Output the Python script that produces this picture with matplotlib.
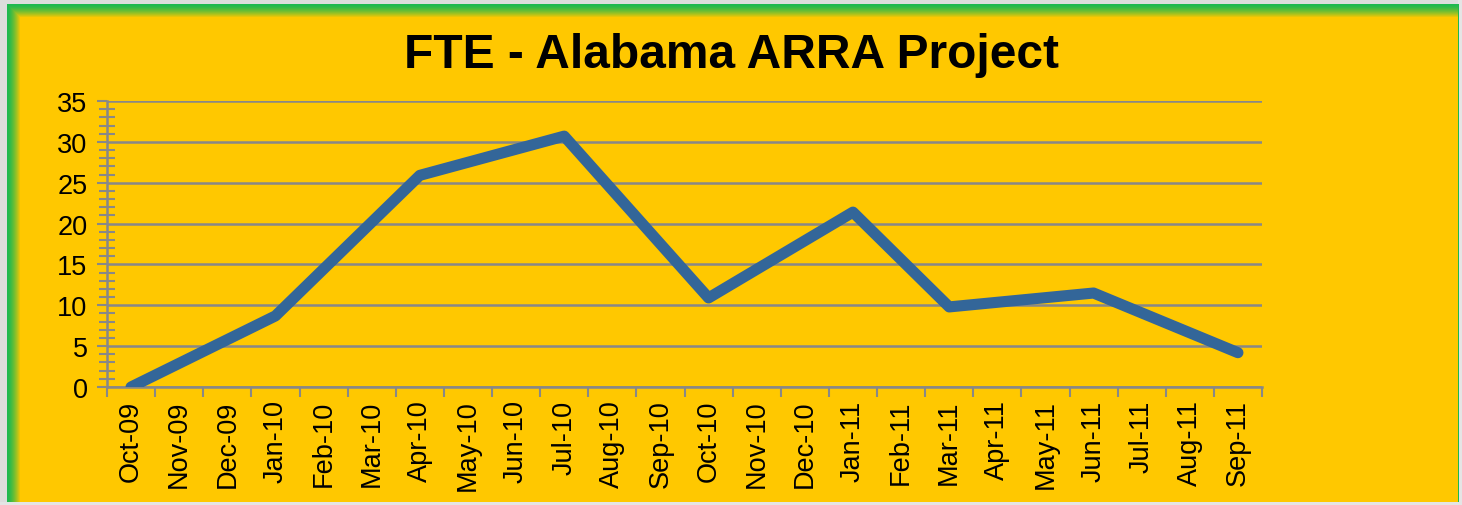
import numpy as np
from matplotlib import pyplot as plt
from matplotlib.ticker import MultipleLocator

# months on the category axis
months = ['Oct-09', 'Nov-09', 'Dec-09', 'Jan-10', 'Feb-10', 'Mar-10',
          'Apr-10', 'May-10', 'Jun-10', 'Jul-10', 'Aug-10', 'Sep-10',
          'Oct-10', 'Nov-10', 'Dec-10', 'Jan-11', 'Feb-11', 'Mar-11',
          'Apr-11', 'May-11', 'Jun-11', 'Jul-11', 'Aug-11', 'Sep-11']
# FTE values, None where no figure was reported
fte = [0.0, None, None, 8.7, None, None,
       25.9, None, None, 30.7, None, None,
       10.9, None, None, 21.4, None, 9.8,
       None, None, 11.5, None, None, 4.2]
title = 'FTE - Alabama ARRA Project'

plt.rcParams['font.family'] = ['Liberation Sans', 'DejaVu Sans']

fig = plt.figure(figsize=(14.62, 5.06), dpi=100)

# background with green border fading into the yellow panel
bg = fig.add_axes([0, 0, 1, 1], zorder=-10)
W, H = 1462, 506
img = np.ones((H, W, 3))
img[:] = np.array([255, 200, 0]) / 255.0
green = np.array([30, 185, 80]) / 255.0
yellow = np.array([255, 200, 0]) / 255.0
for i in range(14):
    t = (i / 13.0) ** 1.5
    c = green * (1 - t) + yellow * t
    img[5 + i, 7 + i:W - 4, :] = c
    img[5 + i:H - 3, 7 + i, :] = c
img[:5, :, :] = 0.87
img[:, :7, :] = 0.87
img[-3:, :, :] = 0.9
img[:, -4:, :] = 0.9
img[5:H - 3, W - 4, :] = green
bg.imshow(img, aspect='auto', interpolation='nearest')
bg.axis('off')

ax = fig.add_axes([107 / W, 1 - 388 / H, (1262 - 107) / W, (388 - 102) / H])
ax.set_facecolor('none')

x = [i for i, v in enumerate(fte) if v is not None]
y = [v for v in fte if v is not None]
ax.plot(x, y, color='#336699', linewidth=8, solid_capstyle='round',
        solid_joinstyle='round', zorder=3)

ax.set_xlim(-0.5, len(months) - 0.5)
ax.set_ylim(0, 35)

# y axis: major every 5, minor every 1
ax.yaxis.set_major_locator(MultipleLocator(5))
ax.yaxis.set_minor_locator(MultipleLocator(1))
ax.tick_params(axis='y', which='major', length=7, width=1.5, color='#888888',
               labelsize=19.5, pad=7, direction='out')
ax.tick_params(axis='y', which='minor', length=12, width=1.5, color='#888888',
               direction='inout')
ax.grid(axis='y', which='major', color='#888888', linewidth=1.8)
ax.set_axisbelow(True)

# x axis: ticks at category boundaries, labels at centres
ax.set_xticks(np.arange(-0.5, len(months), 1.0))
ax.set_xticklabels([])
ax.set_xticks(np.arange(len(months)), minor=True)
ax.set_xticklabels(months, minor=True, rotation=90, fontsize=19.5)
ax.tick_params(axis='x', which='major', length=7, width=1.5, color='#888888')
ax.tick_params(axis='x', which='minor', length=0, pad=9)

for s in ['top', 'right']:
    ax.spines[s].set_visible(False)
for s in ['left', 'bottom']:
    ax.spines[s].set_color('#888888')
    ax.spines[s].set_linewidth(1.8)

fig.text(732 / W, 1 - 55 / H, title, ha='center', va='center',
         fontsize=34.5, fontweight='bold')

fig.savefig('out.png', dpi=100)
